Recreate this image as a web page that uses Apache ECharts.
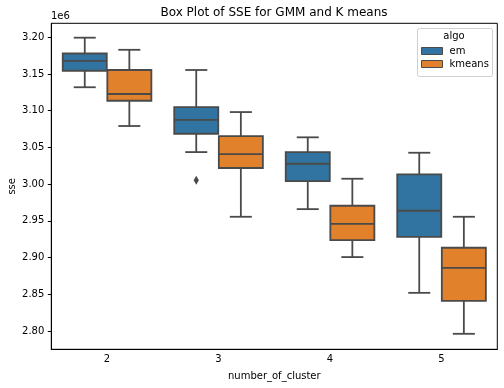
<!DOCTYPE html>
<html>
<head>
<meta charset="utf-8">
<script src="https://cdn.jsdelivr.net/npm/echarts@6/dist/echarts.min.js"></script>
<style>html,body{margin:0;padding:0;background:#fff;}#c{width:504px;height:388px;}</style>
</head>
<body>
<div id="c"></div>
<script>
var categories = ['2', '3', '4', '5'];
// [low whisker, Q1, median, Q3, high whisker] in units of 1e6
var emBoxes = [
  [3.132, 3.1545, 3.168, 3.178, 3.1995],
  [3.0437, 3.0687, 3.0877, 3.105, 3.1555],
  [2.966, 3.0042, 3.0278, 3.0437, 3.0638],
  [2.852, 2.9283, 2.9638, 3.0133, 3.0428]
];
var kmeansBoxes = [
  [3.0792, 3.1136, 3.1228, 3.1555, 3.183],
  [2.9556, 3.022, 3.041, 3.0655, 3.0982],
  [2.9007, 2.9238, 2.946, 2.9706, 3.0074],
  [2.7962, 2.8411, 2.8861, 2.9134, 2.9556]
];
// [category index, value]
var emOutliers = [[1, 3.0052]];
var kmeansOutliers = [];
var yTicks = [2.80, 2.85, 2.90, 2.95, 3.00, 3.05, 3.10, 3.15, 3.20];

var FONT = 'DejaVu Sans';
var LINE = '#4a4a4a';
var EM_COLOR = '#3274a1';
var KM_COLOR = '#e1812c';

function boxData(arr) {
  return arr.map(function (b, i) { return [i, b[0], b[1], b[2], b[3], b[4]]; });
}

function makeRender(offset, color) {
  return function (params, api) {
    var cat = api.value(0);
    var band = api.size([1, 0])[0];
    var bw = band * 0.395;
    var cx = api.coord([cat, api.value(3)])[0] + offset * band;
    var yLo = api.coord([cat, api.value(1)])[1];
    var yQ1 = api.coord([cat, api.value(2)])[1];
    var yMed = api.coord([cat, api.value(3)])[1];
    var yQ3 = api.coord([cat, api.value(4)])[1];
    var yHi = api.coord([cat, api.value(5)])[1];
    var ls = { stroke: LINE, lineWidth: 1.8 };
    var capW = bw / 4;
    return {
      type: 'group',
      children: [
        { type: 'line', shape: { x1: cx, y1: yQ1, x2: cx, y2: yLo }, style: ls },
        { type: 'line', shape: { x1: cx, y1: yQ3, x2: cx, y2: yHi }, style: ls },
        { type: 'line', shape: { x1: cx - capW, y1: yLo, x2: cx + capW, y2: yLo }, style: ls },
        { type: 'line', shape: { x1: cx - capW, y1: yHi, x2: cx + capW, y2: yHi }, style: ls },
        { type: 'rect', shape: { x: cx - bw / 2, y: yQ3, width: bw, height: yQ1 - yQ3 },
          style: { fill: color, stroke: LINE, lineWidth: 1.8 } },
        { type: 'line', shape: { x1: cx - bw / 2, y1: yMed, x2: cx + bw / 2, y2: yMed }, style: ls }
      ]
    };
  };
}

function makeOutlierRender(offset) {
  return function (params, api) {
    var cat = api.value(0);
    var band = api.size([1, 0])[0];
    var p = api.coord([cat, api.value(1)]);
    var cx = p[0] + offset * band, cy = p[1];
    return {
      type: 'polygon',
      shape: { points: [[cx, cy - 4.5], [cx + 2.6, cy], [cx, cy + 4.5], [cx - 2.6, cy]] },
      style: { fill: LINE }
    };
  };
}

var chart = echarts.init(document.getElementById('c'), null, { renderer: 'canvas' });
chart.setOption({
  animation: false,
  backgroundColor: '#fff',
  title: {
    text: 'Box Plot of SSE for GMM and K means',
    left: 274, top: 7, padding: 0, textAlign: 'center',
    textStyle: { fontFamily: FONT, fontSize: 12, fontWeight: 'normal', color: '#000' }
  },
  grid: { left: 51.3, right: 6.7, top: 23.3, bottom: 38.7, show: true, borderColor: '#000', borderWidth: 1,
    containLabel: false, outerBoundsMode: 'none' },
  legend: {
    orient: 'vertical', left: 421, top: 46, padding: 0,
    itemWidth: 21, itemHeight: 7, itemGap: 3,
    icon: 'rect',
    data: ['em', 'kmeans'],
    textStyle: { fontFamily: FONT, fontSize: 10, color: '#000', padding: [0, 0, 0, 2] },
    itemStyle: { borderColor: LINE, borderWidth: 1 }
  },
  xAxis: {
    type: 'category', data: categories, boundaryGap: true,
    name: 'number_of_cluster', nameLocation: 'middle', nameGap: 22,
    nameTextStyle: { fontFamily: FONT, fontSize: 10, color: '#000' },
    axisLine: { lineStyle: { color: '#000', width: 1 } },
    axisTick: { alignWithLabel: true, length: 3.5, lineStyle: { color: '#000' } },
    axisLabel: { fontFamily: FONT, fontSize: 10, color: '#000', margin: 5 },
    splitLine: { show: false }
  },
  yAxis: {
    type: 'value', min: 2.7751, max: 3.2191,
    name: 'sse', nameLocation: 'middle', nameGap: 34, nameRotate: 90, nameMoveOverlap: false,
    nameTextStyle: { fontFamily: FONT, fontSize: 10, color: '#000' },
    axisLine: { show: true, lineStyle: { color: '#000', width: 1 } },
    axisTick: { show: true, length: 3.5, lineStyle: { color: '#000' }, customValues: yTicks },
    axisLabel: { fontFamily: FONT, fontSize: 10, color: '#000', margin: 7, customValues: yTicks,
      formatter: function (v) { return v.toFixed(2); } },
    splitLine: { show: false }
  },
  graphic: [
    { type: 'text', left: 51, top: 11, style: { text: '1e6', font: '10px "DejaVu Sans"', fill: '#000' } },
    { type: 'rect', shape: { x: 417.5, y: 28.5, width: 75, height: 48, r: 2 },
      style: { fill: 'rgba(255,255,255,0.8)', stroke: '#d0d0d0', lineWidth: 1 }, z: 4 },
    { type: 'text', x: 454, y: 31, style: { text: 'algo', font: '10px "DejaVu Sans"', fill: '#000', align: 'center' }, z: 5 }
  ],
  series: [
    { name: 'em', type: 'custom', renderItem: makeRender(-0.2, EM_COLOR), data: boxData(emBoxes),
      itemStyle: { color: EM_COLOR }, encode: { x: 0, y: [1, 2, 3, 4, 5] } },
    { name: 'kmeans', type: 'custom', renderItem: makeRender(0.2, KM_COLOR), data: boxData(kmeansBoxes),
      itemStyle: { color: KM_COLOR }, encode: { x: 0, y: [1, 2, 3, 4, 5] } },
    { name: 'em outliers', type: 'custom', renderItem: makeOutlierRender(-0.2), data: emOutliers,
      encode: { x: 0, y: 1 } },
    { name: 'kmeans outliers', type: 'custom', renderItem: makeOutlierRender(0.2), data: kmeansOutliers,
      encode: { x: 0, y: 1 } }
  ]
});
</script>
</body>
</html>
